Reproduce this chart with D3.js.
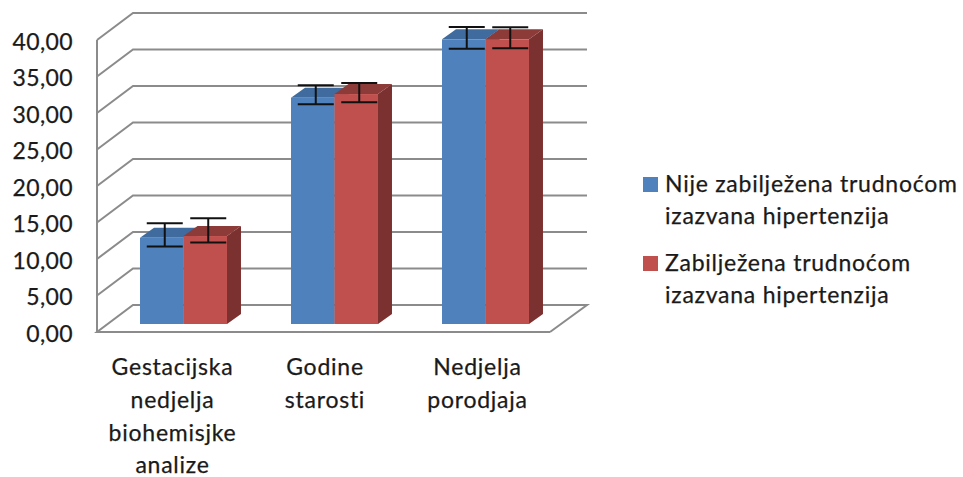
<!DOCTYPE html>
<html><head><meta charset="utf-8">
<style>html,body{margin:0;background:#fff}svg{display:block}text{font-family:Lato,"Open Sans",sans-serif;fill:#1a1a1a;stroke:#1a1a1a;stroke-width:.25}</style>
<script src="https://cdn.jsdelivr.net/npm/d3@7/dist/d3.min.js"></script>
</head><body><svg id="c" width="963" height="477"></svg>
<script>
const categories=[["Gestacijska","nedjelja","biohemisjke","analize"],["Godine","starosti"],["Nedjelja","porodjaja"]];
const seriesNames=[["Nije zabilježena trudnoćom","izazvana hipertenzija"],["Zabilježena trudnoćom","izazvana hipertenzija"]];
const seriesA=[11.8,31,39];
const seriesB=[12.05,31.5,39];
const errorA=[1.6,1.3,1.48];
const errorB=[1.65,1.32,1.44];
const errorMidA=[12.2,31.4,39.2];
const errorMidB=[12.83,31.7,39.2];
const ticks=[0,5,10,15,20,25,30,35,40];

const colors=[{front:"#4f81bd",top:"#3f6b9f",side:"#34587f"},{front:"#c0504d",top:"#8c3b39",side:"#7b312f"}];
const svg=d3.select("#c");
const fmt=v=>v.toFixed(2).replace(".",",");
const y=d3.scaleLinear().domain([0,40]).range([332,40]);
const band=d3.scaleBand().domain(d3.range(3)).range([108,561]).paddingInner(0.424).paddingOuter(0.212);
const sub=d3.scaleBand().domain([0,1]).range([0,band.bandwidth()]);
const labelX=d3.scalePoint().domain(d3.range(3)).range([172.5,477.5]);
const wall={dx:36,dy:-27},barZ={near:{dx:11,dy:-8},far:{dx:25,dy:-18}};
const line=d3.line();
const gridC="#8b8b8b";

const grid=svg.append("g").attr("fill","none").attr("stroke",gridC).attr("stroke-width",2);
ticks.forEach(t=>{
  const pts=t===0?[[550,y(0)],[97,y(0)],[97+wall.dx,y(0)+wall.dy],[587,y(0)+wall.dy],[550,y(0)]]
                 :[[97,y(t)],[97+wall.dx,y(t)+wall.dy],[587,y(t)+wall.dy]];
  grid.append("path").attr("d",line(pts));
});
grid.append("path").attr("d",line([[97,y(0)],[97,y(40)]]));

svg.append("g").selectAll("text").data(ticks).join("text")
  .attr("x",73).attr("y",d=>y(d)+9.5).attr("text-anchor","end").attr("font-size",23).attr("letter-spacing",0.4).text(fmt);

const bars=svg.append("g");
const vals=[seriesA,seriesB],errs=[errorA,errorB],mids=[errorMidA,errorMidB];
categories.forEach((_,i)=>{
  [0,1].forEach(s=>{
    const v=vals[s][i],c=colors[s];
    const x0=band(i)+sub(s),x1=x0+sub.bandwidth();
    const yb=y(0)+barZ.near.dy,yt=y(v)+barZ.near.dy;
    const ddx=barZ.far.dx-barZ.near.dx,ddy=barZ.far.dy-barZ.near.dy;
    bars.append("path").attr("fill",c.side).attr("d",line([[x1,yt],[x1+ddx,yt+ddy],[x1+ddx,yb+ddy],[x1,yb]])+"Z");
    bars.append("path").attr("fill",c.top).attr("d",line([[x0,yt],[x0+ddx,yt+ddy],[x1+ddx,yt+ddy],[x1,yt]])+"Z");
    bars.append("rect").attr("x",x0).attr("y",yt).attr("width",x1-x0).attr("height",yb-yt).attr("fill",c.front);
  });
});
const eb=svg.append("g").attr("stroke","#111").attr("stroke-width",2).attr("fill","none");
categories.forEach((_,i)=>{
  [0,1].forEach(s=>{
    const cx=band(i)+sub(s)+sub.bandwidth()/2+3;
    const m=mids[s][i],e=errs[s][i];
    const hi=y(m+e)+barZ.near.dy,lo=y(m-e)+barZ.near.dy;
    eb.append("path").attr("d",line([[cx,hi],[cx,lo]]));
    eb.append("path").attr("d",line([[cx-18,hi],[cx+18,hi]]));
    eb.append("path").attr("d",line([[cx-18,lo],[cx+18,lo]]));
  });
});

const catG=svg.append("g");
categories.forEach((ls,i)=>{
  ls.forEach((l,j)=>catG.append("text").attr("x",labelX(i)).attr("y",375+j*32.8).attr("text-anchor","middle").attr("font-size",23).attr("letter-spacing",0.75).text(l));
});
const legY=[192,271];
seriesNames.forEach((ls,s)=>{
  svg.append("rect").attr("x",643).attr("y",legY[s]-15).attr("width",15).attr("height",15).attr("fill",colors[s].front);
  ls.forEach((l,j)=>svg.append("text").attr("x",665).attr("y",legY[s]+j*32.3).attr("font-size",23).attr("letter-spacing",0.75).text(l));
});
</script></body></html>
